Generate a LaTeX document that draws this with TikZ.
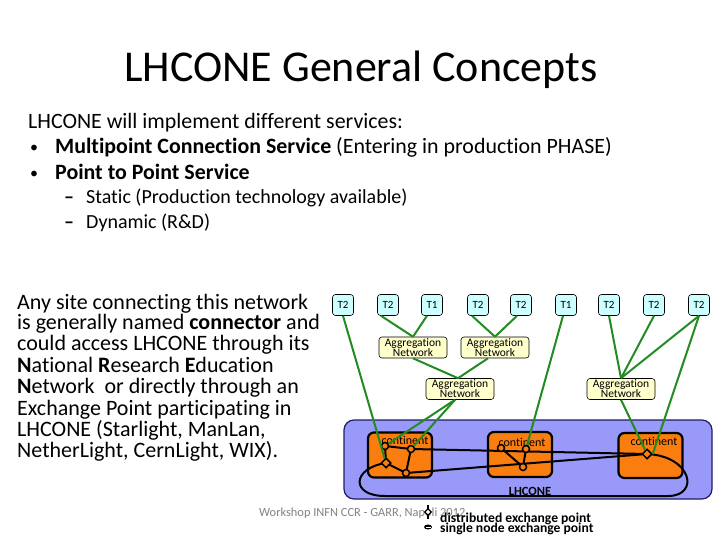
\documentclass[tikz,border=0pt]{standalone}
\usepackage{fontspec}
\setmainfont{Carlito}[Ligatures=NoCommon]
\usetikzlibrary{shapes.geometric}
\definecolor{tcyan}{HTML}{CCFFFF}
\definecolor{aggy}{HTML}{FFFFCC}
\definecolor{lhblue}{RGB}{153,153,250}
\definecolor{lhnavy}{RGB}{30,30,100}
\definecolor{contor}{RGB}{250,125,15}
\definecolor{lineg}{RGB}{34,139,34}
\definecolor{footgray}{RGB}{130,130,130}
\tikzset{
 tbox/.style={draw=black, line width=0.6pt, fill=tcyan, rounded corners=3pt, minimum width=21pt, minimum height=21pt, inner sep=0pt, font=\fontsize{11}{12}\selectfont},
 agbox/.style={draw=black, line width=0.6pt, fill=aggy, rounded corners=3pt, minimum width=68pt, minimum height=21pt, inner sep=0pt, align=center, font=\fontsize{11.5}{10}\selectfont},
 contbox/.style={draw=black, line width=2.2pt, fill=contor, rounded corners=6pt, minimum width=64pt, minimum height=45pt, inner sep=0pt},
 contlbl/.style={inner sep=0pt, font=\fontsize{12}{12}\selectfont},
 xnode/.style={circle, draw=black, line width=1.5pt, fill=contor, minimum size=7pt, inner sep=0pt},
 dnode/.style={diamond, draw=black, line width=1.5pt, fill=contor, minimum size=10pt, inner sep=0pt},
 grn/.style={draw=lineg, line width=2pt},
 blk/.style={draw=black, line width=2pt},
 bodytxt/.style={anchor=base west, inner sep=0pt, font=\fontsize{21.9}{24}\selectfont},
 bultxt/.style={anchor=base west, inner sep=0pt, font=\fontsize{16}{16}\selectfont},
 subtxt/.style={anchor=base west, inner sep=0pt, font=\fontsize{20}{22}\selectfont},
 paratxt/.style={anchor=base west, inner sep=0pt, font=\fontsize{22}{22}\selectfont},
 legtxt/.style={anchor=base west, inner sep=0pt, font=\fontsize{13.6}{13}\selectfont\bfseries},
}
\begin{document}
\begin{tikzpicture}[x=1pt,y=-1pt]
\fill[white] (0,0) rectangle (720,540);
\useasboundingbox (0,0) rectangle (720,540);

% title
\node[anchor=base, inner sep=0pt, font=\fontsize{44}{48}\selectfont] (title) at (361,81.7) {LHCONE General Concepts};

% body text
\node[bodytxt] (b1) at (28,128.3) {LHCONE will implement different services:};
\node[bultxt] (bu1) at (30,153) {•};
\node[bodytxt] (b2) at (55,154) {\textbf{Multipoint Connection Service} (Entering in production PHASE)};
\node[bultxt] (bu2) at (30,179) {•};
\node[bodytxt] (b3) at (55,180) {\textbf{Point to Point Service}};
\node[subtxt] (da1) at (64,204) {\textbf{–}};
\node[subtxt] (b4) at (86,204) {Static (Production technology available)};
\node[subtxt] (da2) at (64,228.3) {\textbf{–}};
\node[subtxt] (b5) at (86,228.3) {Dynamic (R\&D)};

% left paragraph
\node[paratxt] (p1) at (17,309) {Any site connecting this network};
\node[paratxt] (p2) at (17,329.5) {is generally named \textbf{connector} and};
\node[paratxt] (p3) at (17,350.7) {could access LHCONE through its};
\node[paratxt] (p4) at (17,372) {\textbf{N}ational \textbf{R}esearch \textbf{E}ducation};
\node[paratxt] (p5) at (17,393.3) {\textbf{N}etwork\ \ or directly through an};
\node[paratxt] (p6) at (17,415) {Exchange Point participating in};
\node[paratxt] (p7) at (17,436.5) {LHCONE (Starlight, ManLan,};
\node[paratxt] (p8) at (17,457.5) {NetherLight, CernLight, WIX).};

% LHCONE region
\node[draw=lhnavy, line width=1.2pt, fill=lhblue, rounded corners=10pt, minimum width=368pt, minimum height=79pt, inner sep=0pt] (lhc) at (528,459.5) {};

% continents
\node[contbox] (c1) at (400,455) {};
\node[contbox] (c2) at (520,454.5) {};
\node[contbox] (c3) at (650.5,455.5) {};
\node[contlbl] (cl1) at (405,440) {continent};
\node[contlbl] (cl2) at (522,442) {continent};
\node[contlbl] (cl3) at (654,441) {continent};

% exchange points
\coordinate (pA) at (385,446);
\coordinate (pB) at (411,449);
\coordinate (pC) at (386,463);
\coordinate (pD) at (406,473);
\coordinate (pF) at (501,448);
\coordinate (pE) at (523,467);
\coordinate (pG) at (526,449);
\coordinate (pX) at (647,454);

% black links
\draw[blk] (pA) -- (pB);
\draw[blk] (pA) -- (pC);
\draw[blk] (pC) -- (pD);
\draw[blk] (pB) -- (pD);
\draw[blk] (pB) -- (pX);
\draw[blk] (pD) -- (pX);
\draw[blk] (pF) -- (pE) -- (pG);
\draw[blk] (pC) .. controls (352,468) and (350,496) .. (385,496) -- (668,496) .. controls (700,496) and (692,456) .. (pX);

\node[xnode] (nA) at (pA) {};
\node[xnode] (nB) at (pB) {};
\node[dnode] (nC) at (pC) {};
\node[xnode] (nD) at (pD) {};
\node[xnode] (nF) at (pF) {};
\node[xnode] (nE) at (pE) {};
\node[xnode] (nG) at (pG) {};
\node[dnode] (nX) at (pX) {};

\node[inner sep=0pt, font=\fontsize{12.5}{13}\selectfont\bfseries] (lhlbl) at (530,491) {LHCONE};

% tier boxes
\node[tbox] (t1) at (343,305) {T2};
\node[tbox] (t2) at (388,305) {T2};
\node[tbox] (t3) at (432,305) {T1};
\node[tbox] (t4) at (478,305) {T2};
\node[tbox] (t5) at (521,305) {T2};
\node[tbox] (t6) at (566,305) {T1};
\node[tbox] (t7) at (609,305) {T2};
\node[tbox] (t8) at (654,305) {T2};
\node[tbox] (t9) at (699,305) {T2};

% aggregation
\node[agbox] (ag1) at (413,347.5) {Aggregation\\Network};
\node[agbox] (ag2) at (495,347.5) {Aggregation\\Network};
\node[agbox] (ag3) at (460,389) {Aggregation\\Network};
\node[agbox] (ag4) at (621,389) {Aggregation\\Network};

% green links
\draw[grn] (t1.south) -- (nC);
\draw[grn] ([xshift=-7pt]t2.south) -- (ag1.north);
\draw[grn] ([xshift=-5pt]t3.south) -- (ag1.north);
\draw[grn] ([xshift=-6pt]t4.south) -- (ag2.north);
\draw[grn] ([xshift=-4pt]t5.south) -- (ag2.north);
\draw[grn] (ag1.south) -- ([xshift=-2pt]ag3.north);
\draw[grn] ([xshift=-7pt]ag2.south) -- ([xshift=-2pt]ag3.north);
\draw[grn] ([xshift=-5pt]ag3.south) -- (nA);
\draw[grn] ([xshift=-5pt]ag3.south) -- (nB);
\draw[grn] ([xshift=-3pt]t6.south) -- (nG);
\draw[grn] (t7.south) -- (ag4.north);
\draw[grn] (t8.south) -- (ag4.north);
\draw[grn] (t9.south) -- (ag4.north);
\draw[grn] (t9.south) -- (nX.east);
\draw[grn] (ag4.south) -- (nX);

% footer
\node[anchor=base west, inner sep=0pt, text=footgray, font=\fontsize{12.4}{13}\selectfont] (foot) at (259,516.7) {Workshop INFN CCR - GARR, Napoli 2012};

% legend
\draw[black, line width=1.2pt] (428,505) -- (428,519);
\node[diamond, draw=black, line width=1.2pt, fill=white, minimum size=7pt, inner sep=0pt] (ldist) at (428,512) {};
\node[ellipse, fill=black, minimum width=8pt, minimum height=5pt, inner sep=0pt] (lsing) at (428,527) {};
\draw[white, line width=0.8pt] ([xshift=-2.5pt]lsing.center) -- ([xshift=2.5pt]lsing.center);
\node[legtxt] (lg1) at (440,522) {distributed exchange point};
\node[legtxt] (lg2) at (440,532.3) {single node exchange point};
\end{tikzpicture}
\end{document}
